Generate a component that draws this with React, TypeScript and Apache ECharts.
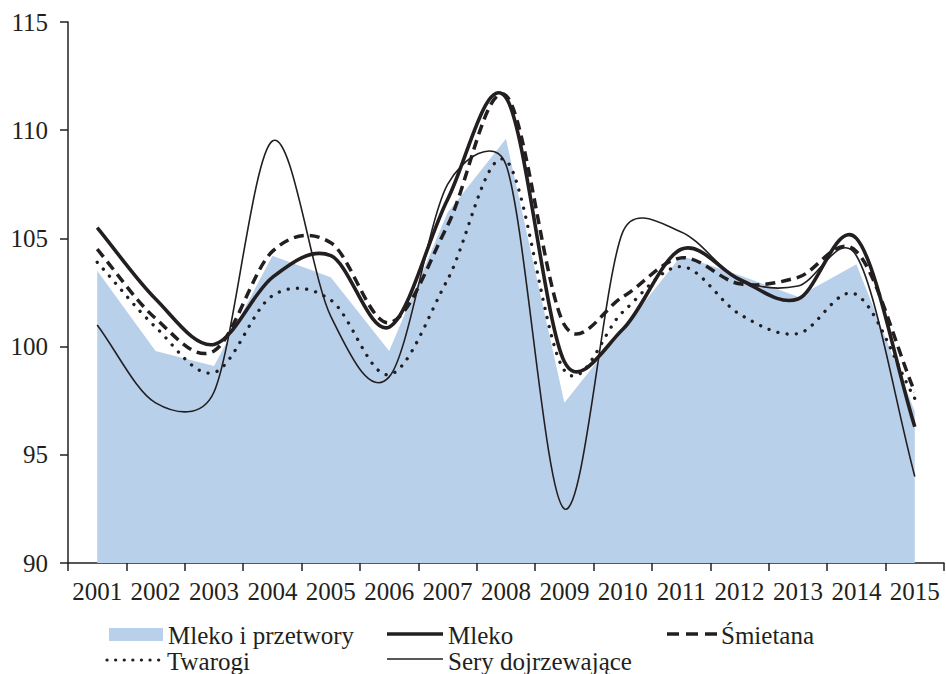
import React, { useEffect, useRef } from "react";
import * as echarts from "echarts";

const years = ["2001", "2002", "2003", "2004", "2005", "2006", "2007", "2008", "2009", "2010", "2011", "2012", "2013", "2014", "2015"];
const mlekoIPrzetwory = [103.5, 99.8, 99.1, 104.2, 103.2, 99.8, 106.2, 109.6, 97.4, 100.8, 104.2, 103.3, 102.3, 103.8, 97.0];
const mleko = [105.5, 102.2, 100.1, 103.2, 104.2, 100.9, 106.8, 111.5, 99.3, 100.8, 104.5, 103.1, 102.2, 105.0, 96.3];
const smietana = [104.5, 101.3, 99.8, 104.4, 104.8, 101.1, 105.6, 111.6, 101.0, 102.3, 104.1, 102.9, 103.2, 104.4, 97.9];
const twarogi = [103.9, 100.9, 98.8, 102.35, 102.15, 98.7, 103.1, 108.6, 98.9, 101.6, 103.7, 101.5, 100.6, 102.4, 97.6];
const sery = [101.0, 97.4, 97.9, 109.5, 101.4, 98.6, 107.5, 108.4, 92.5, 105.3, 105.3, 103.1, 102.8, 104.2, 94.0];
const yTicks = [90, 95, 100, 105, 110, 115];

const INK = "#231F20";
const BLUE = "#B9D0EB";
const FONT = "'Liberation Serif', 'Times New Roman', serif";
const FS = 25;

type Pt = number[];
const dist = (a: Pt, b: Pt) => Math.hypot(a[0] - b[0], a[1] - b[1]);

// Excel-like smoothed Bezier path through the pixel points
function smoothPath(pts: Pt[]): string {
  const n = pts.length;
  let d = `M${pts[0][0]},${pts[0][1]}`;
  for (let i = 0; i < n - 1; i++) {
    const p1 = pts[i];
    const p2 = pts[i + 1];
    const p0 = i > 0 ? pts[i - 1] : p1;
    const p3 = i + 2 < n ? pts[i + 2] : p2;
    const d12 = dist(p1, p2);
    const d02 = dist(p0, p2);
    const d13 = dist(p1, p3);
    let f = i > 0 ? 1 / 6 : 1 / 3;
    let g = i + 2 < n ? 1 / 6 : 1 / 3;
    if (d02 > 0 && d02 * f > d12 / 2) f = d12 / (2 * d02);
    if (d13 > 0 && d13 * g > d12 / 2) g = d12 / (2 * d13);
    const c1 = [p1[0] + f * (p2[0] - p0[0]), p1[1] + f * (p2[1] - p0[1])];
    const c2 = [p2[0] - g * (p3[0] - p1[0]), p2[1] - g * (p3[1] - p1[1])];
    d += ` C${c1[0]},${c1[1]} ${c2[0]},${c2[1]} ${p2[0]},${p2[1]}`;
  }
  return d;
}

function smoothSeries(name: string, values: number[], lineStyle: any, z: number) {
  return {
    name,
    type: "custom",
    z,
    data: values.map((v, i) => [i, v]),
    encode: { x: 0, y: 1 },
    renderItem: (params: any, api: any) => {
      if (params.dataIndex !== 0) return null;
      const pts = values.map((v, i) => api.coord([i, v]));
      return {
        type: "path",
        shape: { pathData: smoothPath(pts) },
        style: { fill: "none", stroke: INK, ...lineStyle },
        silent: true,
      };
    },
  };
}

export default function App() {
  const ref = useRef<HTMLDivElement>(null);
  useEffect(() => {
    if (!ref.current) return;
    const chart = echarts.init(ref.current, undefined, { renderer: "svg" });
    const txt = (x: number, y: number, t: string) => ({
      type: "text",
      x,
      y,
      style: { text: t, fontFamily: FONT, fontSize: FS, fill: INK, textVerticalAlign: "middle", verticalAlign: "middle" },
    });
    chart.setOption({
      animation: false,
      backgroundColor: "#ffffff",
      grid: { left: 68, right: 2, top: 22, bottom: 111, containLabel: false },
      xAxis: {
        type: "category",
        data: years,
        boundaryGap: true,
        axisLine: { lineStyle: { color: INK, width: 1.5 } },
        axisTick: { show: true, length: 8, lineStyle: { color: INK, width: 1.5 } },
        axisLabel: { fontFamily: FONT, fontSize: FS, color: INK, margin: 16, interval: 0 },
        splitLine: { show: false },
      },
      yAxis: {
        type: "value",
        min: yTicks[0],
        max: yTicks[yTicks.length - 1],
        interval: 5,
        axisLine: { show: true, lineStyle: { color: INK, width: 1.5 } },
        axisTick: { show: true, length: 8, lineStyle: { color: INK, width: 1.5 } },
        axisLabel: { fontFamily: FONT, fontSize: FS, color: INK, margin: 20 },
        splitLine: { show: false },
      },
      graphic: [
        { type: "rect", shape: { x: 109, y: 628, width: 54, height: 13 }, style: { fill: BLUE } },
        txt(168, 635, "Mleko i przetwory"),
        { type: "line", shape: { x1: 387, y1: 634, x2: 443, y2: 634 }, style: { stroke: INK, lineWidth: 3.5 } },
        txt(448, 635, "Mleko"),
        { type: "line", shape: { x1: 667, y1: 634, x2: 717, y2: 634 }, style: { stroke: INK, lineWidth: 3.5, lineDash: [12, 7] } },
        txt(721, 635, "Śmietana"),
        { type: "line", shape: { x1: 107, y1: 660, x2: 160, y2: 660 }, style: { stroke: INK, lineWidth: 3.2, lineDash: [0.1, 8.5], lineCap: "round" } },
        txt(167, 661, "Twarogi"),
        { type: "line", shape: { x1: 387, y1: 659, x2: 443, y2: 659 }, style: { stroke: INK, lineWidth: 1.5 } },
        txt(448, 661, "Sery dojrzewające"),
      ],
      series: [
        {
          name: "Mleko i przetwory",
          type: "line",
          data: mlekoIPrzetwory,
          symbol: "none",
          smooth: false,
          color: BLUE,
          lineStyle: { width: 0, color: BLUE },
          areaStyle: { color: BLUE, opacity: 1 },
          z: 1,
        },
        smoothSeries("Twarogi", twarogi, { lineWidth: 3.3, lineDash: [0.1, 9.2], lineCap: "round" }, 3),
        smoothSeries("Sery dojrzewające", sery, { lineWidth: 1.6 }, 3),
        smoothSeries("Śmietana", smietana, { lineWidth: 3.5, lineDash: [10, 6] }, 4),
        smoothSeries("Mleko", mleko, { lineWidth: 3.6 }, 5),
      ],
    });
    return () => chart.dispose();
  }, []);
  return <div ref={ref} style={{ width: 946, height: 674, position: "absolute", left: 0, top: 0 }} />;
}
